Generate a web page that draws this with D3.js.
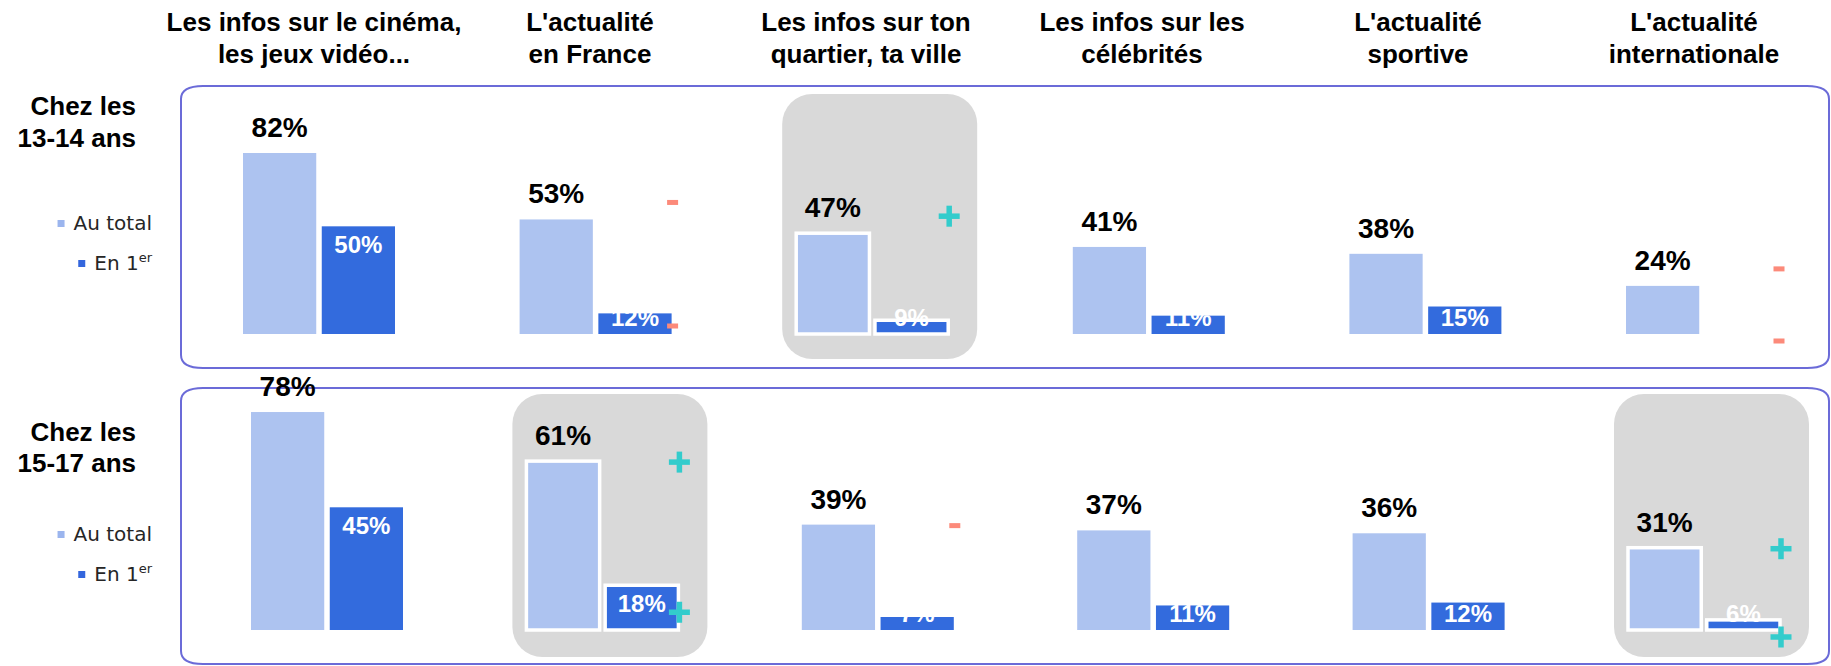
<!DOCTYPE html>
<html>
<head>
<meta charset="utf-8">
<script src="https://cdn.jsdelivr.net/npm/d3@7/dist/d3.min.js"></script>
<style>
  html, body { margin: 0; padding: 0; background: #ffffff; }
  svg { display: block; }
</style>
</head>
<body>
<svg id="chart" width="1831" height="666"></svg>
<script>
// ---------- DATA ----------
const categoryTitles = [
  ["Les infos sur le cinéma,", "les jeux vidéo..."],
  ["L'actualité", "en France"],
  ["Les infos sur ton", "quartier, ta ville"],
  ["Les infos sur les", "célébrités"],
  ["L'actualité", "sportive"],
  ["L'actualité", "internationale"]
];
const categories = categoryTitles.map(t => t.join(" "));
const rowTitles = [["Chez les", "13-14 ans"], ["Chez les", "15-17 ans"]];
const seriesNames = ["Au total", "En 1"];
const seriesSup = ["", "er"];

const total1314 = [82, 53, 47, 41, 38, 24];
const first1314 = [50, 12, 9, 11, 15, 3];
const total1517 = [78, 61, 39, 37, 36, 31];
const first1517 = [45, 18, 7, 11, 12, 6];

const sigTotal1314 = [null, "-", "+", null, null, "-"];
const sigFirst1314 = [null, "-", null, null, null, "-"];
const sigTotal1517 = [null, "+", "-", null, null, "+"];
const sigFirst1517 = [null, "+", null, null, null, "+"];

// ---------- STYLE / LAYOUT ----------
const C = {
  light: "#adc3f0", dark: "#336bdd",
  legLight: "#9bb5ee", legDark: "#3366dd",
  box: "#6b6bd8", hl: "#d9d9d9",
  plus: "#33cccc", minus: "#fc8a7a"
};
const FONT = "'Liberation Sans', Arial, sans-serif";

const rowsCfg = [
  { total: total1314, first: first1314, sigT: sigTotal1314, sigF: sigFirst1314,
    xr: [319, 1702], yDom: [3, 100], base: 334, pxPer: 2.291,
    box: [86, 368], hl: [94, 359], titleY: [115, 147], legY: [230, 270], mTdy: -17 },
  { total: total1517, first: first1517, sigT: sigTotal1517, sigF: sigFirst1517,
    xr: [327, 1704], yDom: [2.5, 100], base: 630, pxPer: 2.887,
    box: [388, 664], hl: [394, 657], titleY: [441, 472], legY: [541, 581], mTdy: 1 }
];

const svg = d3.select("#chart");

// Column titles
const xTitle = d3.scalePoint().domain(categories).range([314, 1694]);
const titles = svg.append("g");
categoryTitles.forEach((lines, i) => {
  const t = titles.append("text")
    .attr("x", xTitle(categories[i])).attr("text-anchor", "middle")
    .attr("font-family", FONT).attr("font-weight", "bold").attr("font-size", 26)
    .attr("fill", "#000");
  lines.forEach((l, j) => t.append("tspan").attr("x", xTitle(categories[i])).attr("y", 31 + j * 32).text(l));
});

const inner = d3.scaleBand().domain(["t", "f"]).range([-76, 76]).paddingInner(0.07);

function boxPath(x0, y0, x1, y1, rx, ry) {
  return `M${x0},${y0 + ry} Q${x0},${y0} ${x0 + rx},${y0} L${x1 - rx},${y0} Q${x1},${y0} ${x1},${y0 + ry}` +
         ` L${x1},${y1 - ry} Q${x1},${y1} ${x1 - rx},${y1} L${x0 + rx},${y1} Q${x0},${y1} ${x0},${y1 - ry} Z`;
}

function drawMarker(g, type, cx, cy) {
  if (type === "+") {
    g.append("rect").attr("x", cx - 10.5).attr("y", cy - 2.75).attr("width", 21).attr("height", 5.5).attr("fill", C.plus);
    g.append("rect").attr("x", cx - 2.75).attr("y", cy - 10.5).attr("width", 5.5).attr("height", 21).attr("fill", C.plus);
  } else if (type === "-") {
    g.append("rect").attr("x", cx - 5.5).attr("y", cy - 2.5).attr("width", 11).attr("height", 5).attr("fill", C.minus);
  }
}

rowsCfg.forEach((r, ri) => {
  const g = svg.append("g");
  const x = d3.scalePoint().domain(categories).range(r.xr);
  const yTop = r.base - (r.yDom[1] - r.yDom[0]) * r.pxPer;
  const y = d3.scaleLinear().domain(r.yDom).range([r.base, yTop]);

  // outer box
  g.append("path").attr("d", boxPath(181, r.box[0], 1829, r.box[1], 22, 13))
    .attr("fill", "none").attr("stroke", C.box).attr("stroke-width", 2);

  // row title
  const rt = g.append("text").attr("text-anchor", "end")
    .attr("font-family", FONT).attr("font-weight", "bold").attr("font-size", 26).attr("fill", "#000");
  rowTitles[ri].forEach((l, j) => rt.append("tspan").attr("x", 136).attr("y", r.titleY[j]).text(l));

  // legend
  seriesNames.forEach((name, si) => {
    const t = g.append("text").attr("x", 152).attr("y", r.legY[si]).attr("text-anchor", "end")
      .attr("font-family", "'DejaVu Sans', sans-serif").attr("font-size", 20).attr("fill", "#262626");
    t.append("tspan").text(name);
    if (seriesSup[si]) t.append("tspan").attr("font-size", 13).attr("dy", -8).text(seriesSup[si]);
    const bb = t.node().getBBox();
    g.append("rect").attr("x", bb.x - 16).attr("y", r.legY[si] - 10).attr("width", 7).attr("height", 7)
      .attr("fill", si === 0 ? C.legLight : C.legDark);
  });

  const data = categories.map((c, i) => ({
    c, t: r.total[i], f: r.first[i], sT: r.sigT[i], sF: r.sigF[i], hl: r.sigT[i] === "+"
  }));

  // highlight boxes
  g.selectAll("rect.hl").data(data.filter(d => d.hl)).join("rect").attr("class", "hl")
    .attr("x", d => x(d.c) - 90).attr("y", r.hl[0])
    .attr("width", 195).attr("height", r.hl[1] - r.hl[0])
    .attr("rx", 30).attr("ry", 30).attr("fill", C.hl);

  // bars
  data.forEach(d => {
    [["t", d.t, C.light], ["f", d.f, C.dark]].forEach(([k, v, col]) => {
      const h = Math.max(0, r.base - y(v));
      const rect = g.append("rect")
        .attr("x", x(d.c) + inner(k)).attr("y", y(v))
        .attr("width", inner.bandwidth()).attr("height", h)
        .attr("fill", col);
      if (d.hl && h > 0) rect.attr("stroke", "#fff").attr("stroke-width", 3.5);
    });
  });

  // labels
  data.forEach(d => {
    g.append("text").attr("x", x(d.c) + inner("t") + inner.bandwidth() / 2).attr("y", y(d.t) - 16)
      .attr("text-anchor", "middle").attr("font-family", FONT).attr("font-weight", "bold")
      .attr("font-size", 28).attr("fill", "#000").text(d.t + "%");
  });
  data.forEach(d => {
    const ly = Math.min(y(d.f) + 27, r.base - 8);
    g.append("text").attr("x", x(d.c) + inner("f") + inner.bandwidth() / 2).attr("y", ly)
      .attr("text-anchor", "middle").attr("font-family", FONT).attr("font-weight", "bold")
      .attr("font-size", 24).attr("fill", "#fff").text(d.f + "%");
  });

  // significance markers
  data.forEach(d => {
    const mx = x(d.c) + 77;
    if (d.sT) drawMarker(g, d.sT, mx, y(d.t) + r.mTdy);
    if (d.sF) {
      const ly = d.f < 8 ? r.base + 7 : Math.min(y(d.f) + 27, r.base - 8);
      drawMarker(g, d.sF, mx, ly);
    }
  });
});
</script>
</body>
</html>
